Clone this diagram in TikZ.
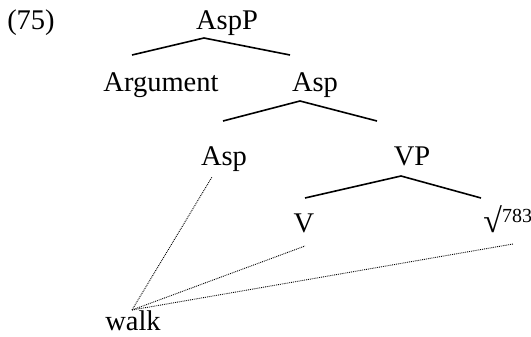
\documentclass[tikz,border=0pt]{standalone}
\usepackage{fontspec}
\setmainfont{Liberation Serif}
\usetikzlibrary{positioning}

\begin{document}
\begin{tikzpicture}[
  x=1pt, y=-1pt,
  every node/.style={font=\fontsize{28.5}{32}\selectfont, inner sep=0pt, anchor=base},
  branch/.style={draw, line width=1.6pt},
  link/.style={draw, densely dotted, line width=0.9pt}
]
\useasboundingbox (0,0) rectangle (531,337);
% labels
\node (ex)   at (31,30)   {(75)};
\node (aspp) at (227,30)  {AspP};
\node (arg)  at (161,92)  {Argument};
\node (asp1) at (315,92)  {Asp};
\node (asp2) at (224,166) {Asp};
\node (vp)   at (412,166) {VP};
\node (v)    at (304,233) {V};
\node (rt)   at (508,232) {{\fontsize{34}{34}\selectfont √}\textsuperscript{783}};
\node (walk) at (133,330) {walk};
% branch points
\coordinate (t1) at (204,38);
\coordinate (l1) at (132,55);
\coordinate (r1) at (290,55);
\coordinate (t2) at (300,101);
\coordinate (l2) at (223,121);
\coordinate (r2) at (377,121);
\coordinate (t3) at (401,176);
\coordinate (l3) at (305,198);
\coordinate (r3) at (481,198);
\draw[branch] (l1) -- (t1) -- (r1);
\draw[branch] (l2) -- (t2) -- (r2);
\draw[branch] (l3) -- (t3) -- (r3);
% vocabulary item
\coordinate (w)  at (132,310);
\coordinate (a2) at (212,177);
\coordinate (v2) at (305,246);
\coordinate (r4) at (513,244);
\draw[link] (w) -- (a2);
\draw[link] (w) -- (v2);
\draw[link] (w) -- (r4);
\end{tikzpicture}
\end{document}
